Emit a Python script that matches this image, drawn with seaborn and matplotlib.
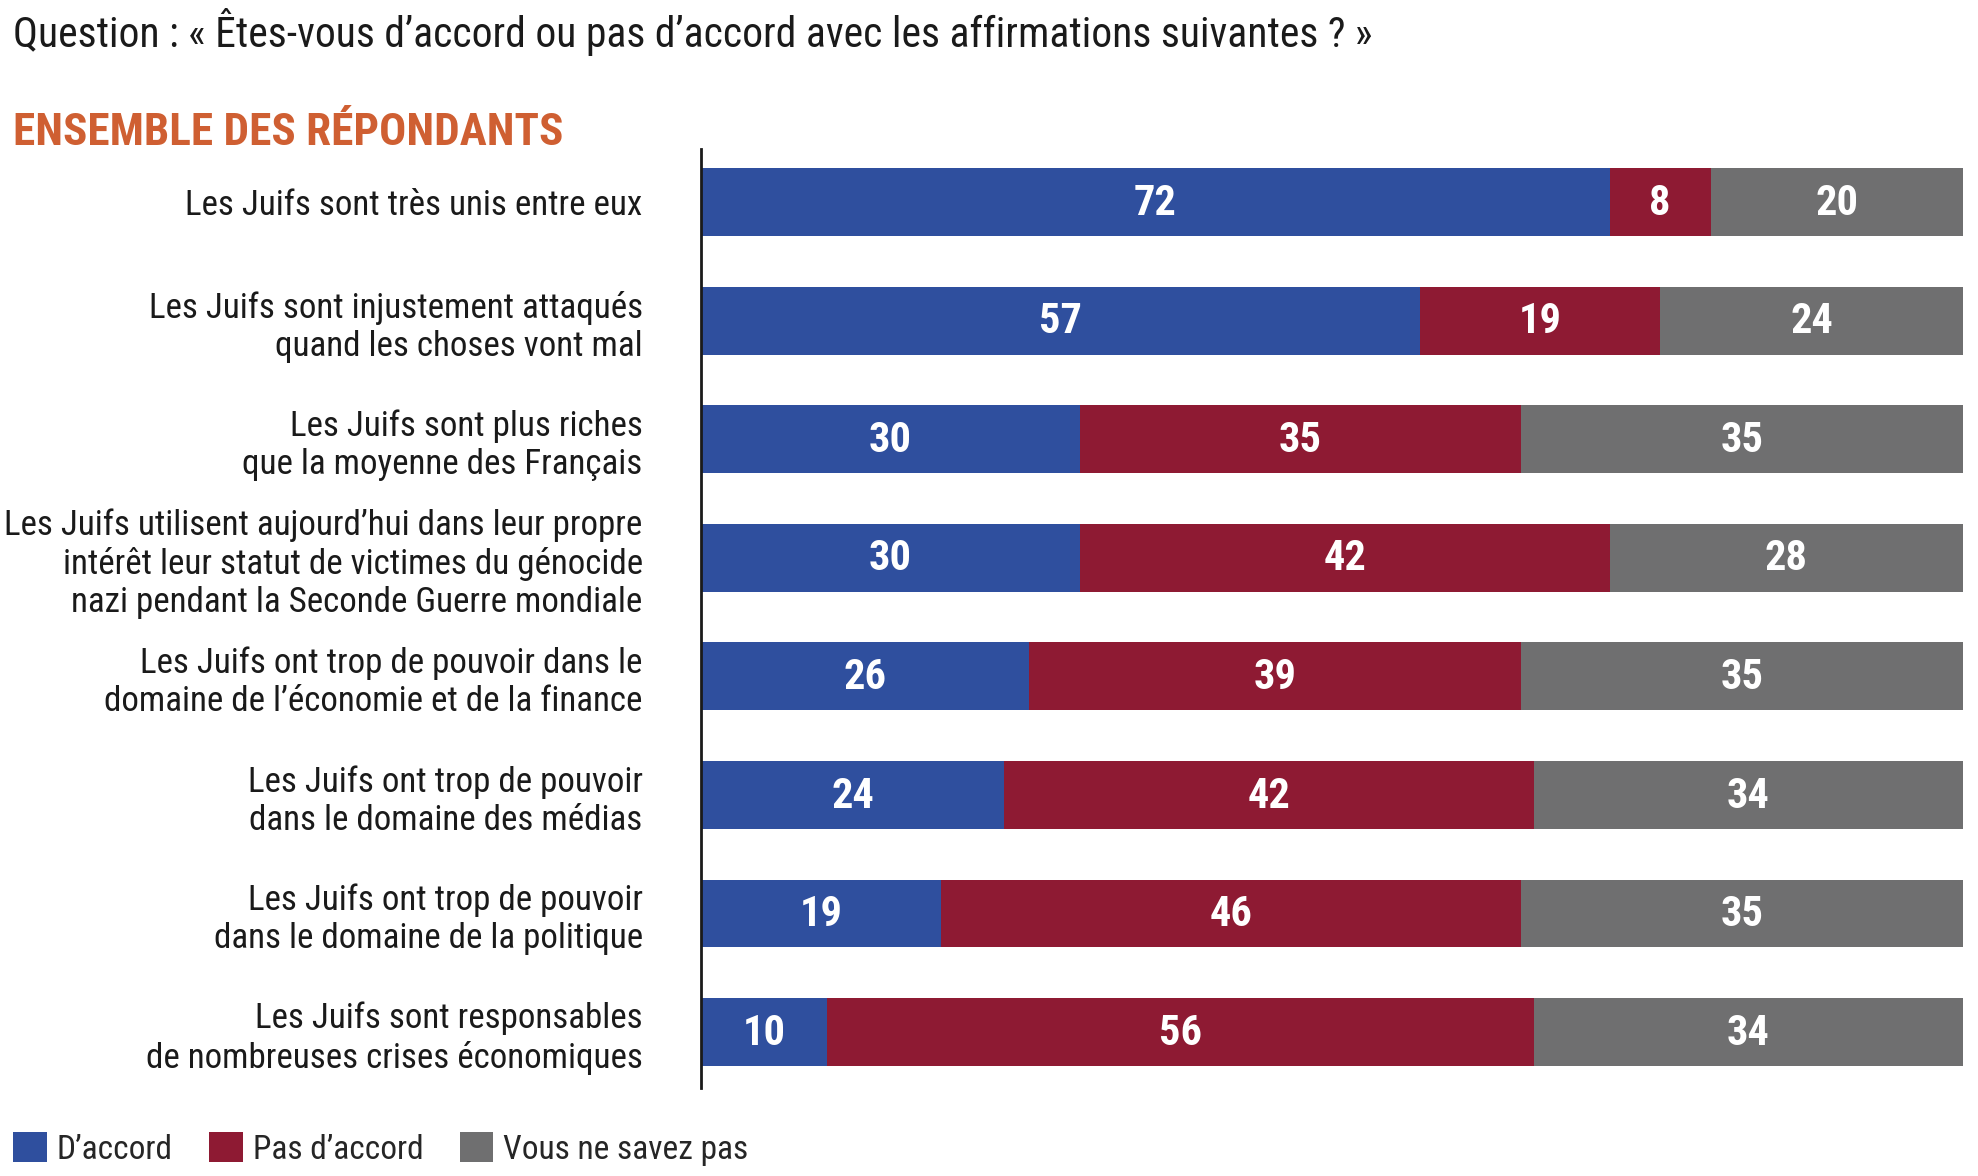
import matplotlib
matplotlib.use("Agg")
import matplotlib.pyplot as plt
from matplotlib.patches import Patch
import pandas as pd
import seaborn as sns

# data
categories = [
    "Les Juifs sont très unis entre eux",
    "Les Juifs sont injustement attaqués\nquand les choses vont mal",
    "Les Juifs sont plus riches\nque la moyenne des Français",
    "Les Juifs utilisent aujourd’hui dans leur propre\nintérêt leur statut de victimes du génocide\nnazi pendant la Seconde Guerre mondiale",
    "Les Juifs ont trop de pouvoir dans le\ndomaine de l’économie et de la finance",
    "Les Juifs ont trop de pouvoir\ndans le domaine des médias",
    "Les Juifs ont trop de pouvoir\ndans le domaine de la politique",
    "Les Juifs sont responsables\nde nombreuses crises économiques",
]
agree = [72, 57, 30, 30, 26, 24, 19, 10]
disagree = [8, 19, 35, 42, 39, 42, 46, 56]
dont_know = [20, 24, 35, 28, 35, 34, 35, 34]
series_names = ["D’accord", "Pas d’accord", "Vous ne savez pas"]

BLUE = "#2F4F9E"
RED = "#8E1A33"
GREY = "#6F6F70"
ORANGE = "#CF5F32"

sns.set_theme(style="white")
plt.rcParams["font.family"] = ["Roboto Condensed", "Archivo Narrow", "DejaVu Sans"]

df = pd.DataFrame({"cat": categories, "agree": agree,
                   "disagree": disagree, "dont_know": dont_know})
df["cum2"] = df["agree"] + df["disagree"]
df["cum3"] = df["cum2"] + df["dont_know"]

fig = plt.figure(figsize=(19.78, 11.76), dpi=100)
ax = fig.add_axes([0.3544, 0.0748, 0.638, 0.7985])

# stacked bars: draw totals first, then overlay partial sums
sns.barplot(data=df, x="cum3", y="cat", color=GREY, width=0.573,
            saturation=1, ax=ax, orient="h")
sns.barplot(data=df, x="cum2", y="cat", color=RED, width=0.573,
            saturation=1, ax=ax, orient="h")
sns.barplot(data=df, x="agree", y="cat", color=BLUE, width=0.573,
            saturation=1, ax=ax, orient="h")
for p in ax.patches:
    p.set_linewidth(0)

# value labels in the middle of each segment
for i, row in df.iterrows():
    starts = [0, row["agree"], row["cum2"]]
    vals = [row["agree"], row["disagree"], row["dont_know"]]
    for s, v in zip(starts, vals):
        ax.text(s + v / 2, i + 0.01, f"{v}", ha="center", va="center",
                color="white", fontsize=30.5, fontweight="bold")

ax.set_xlim(0, 100)
ax.set_ylim(7.472, -0.447)
ax.set_xlabel("")
ax.set_ylabel("")
ax.set_xticks([])
ax.tick_params(axis="y", length=0, pad=42, labelsize=25.2)
for lab in ax.get_yticklabels():
    lab.set_color("#1a1a1a")
    lab.set_linespacing(1.2)
for side in ["top", "right", "bottom"]:
    ax.spines[side].set_visible(False)
ax.spines["left"].set_color("#1a1a1a")
ax.spines["left"].set_linewidth(2)

fig.text(0.0066, 0.973, "Question : « Êtes-vous d’accord ou pas d’accord avec les affirmations suivantes ? »",
         fontsize=30, color="#1a1a1a", ha="left", va="center")
fig.text(0.0066, 0.887, "ENSEMBLE DES RÉPONDANTS", fontsize=32.5,
         fontweight="bold", color=ORANGE, ha="left", va="center")

handles = [Patch(facecolor=c, edgecolor="none") for c in (BLUE, RED, GREY)]
fig.legend(handles, series_names, loc="lower left", bbox_to_anchor=(-0.005, -0.011),
           ncol=3, frameon=False, fontsize=24, handlelength=1.0,
           handleheight=1.0, handletextpad=0.3, columnspacing=1.1,
           borderaxespad=0.3)

fig.savefig("out.png", dpi=100)
